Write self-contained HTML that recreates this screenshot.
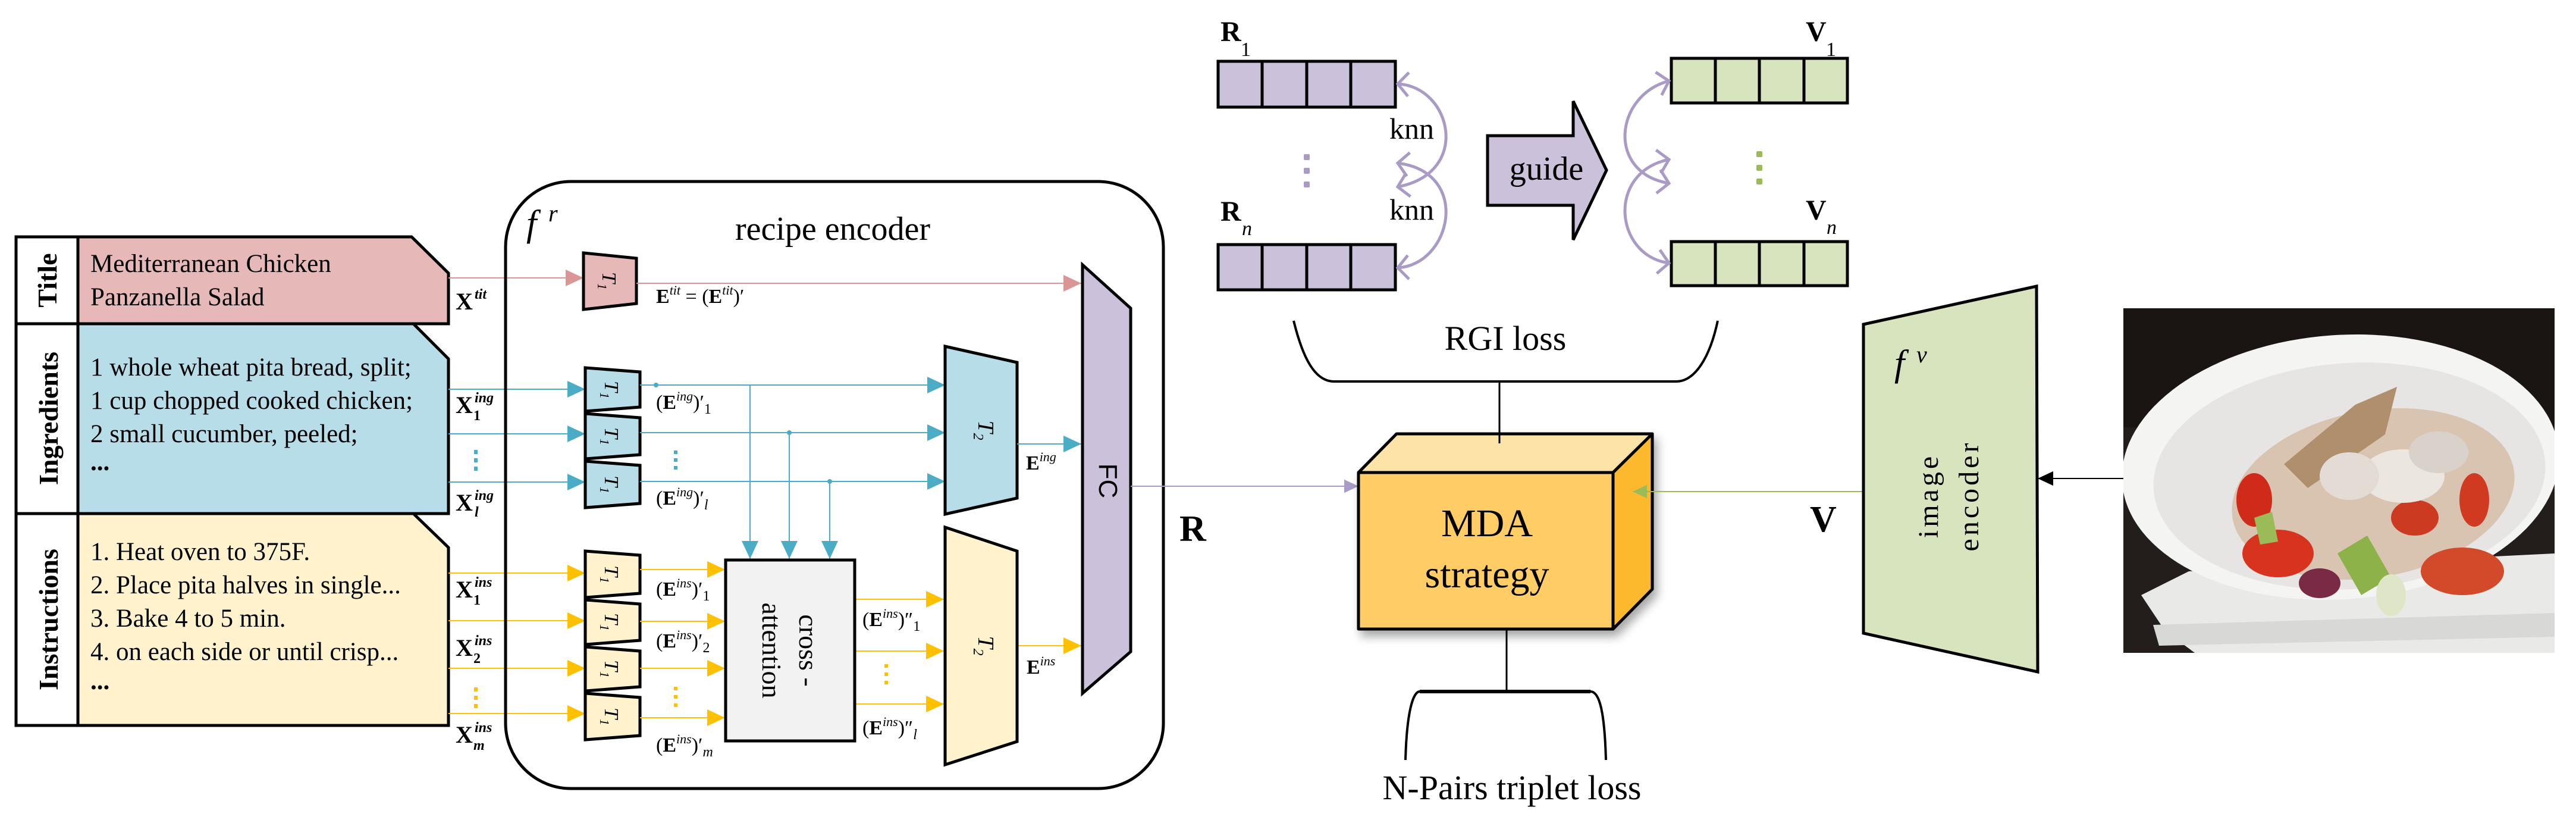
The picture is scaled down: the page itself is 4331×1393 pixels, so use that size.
<!DOCTYPE html>
<html><head><meta charset="utf-8"><style>
html,body{margin:0;padding:0;background:#fff;}
svg{display:block;font-family:"Liberation Serif",serif;}
text{font-family:"Liberation Serif",serif;}
</style></head><body>
<svg width="4331" height="1393" viewBox="0 0 4331 1393" xmlns="http://www.w3.org/2000/svg" font-family="Liberation Serif, serif">
<defs>
<marker id="mp" viewBox="0 0 30 28" refX="30" refY="14" markerWidth="30" markerHeight="28" orient="auto" markerUnits="userSpaceOnUse"><path d="M0,0 L30,14 L0,28 z" fill="#d99694"/></marker>
<marker id="mb" viewBox="0 0 30 28" refX="30" refY="14" markerWidth="30" markerHeight="28" orient="auto" markerUnits="userSpaceOnUse"><path d="M0,0 L30,14 L0,28 z" fill="#4bacc6"/></marker>
<marker id="my" viewBox="0 0 30 28" refX="30" refY="14" markerWidth="30" markerHeight="28" orient="auto" markerUnits="userSpaceOnUse"><path d="M0,0 L30,14 L0,28 z" fill="#ffc000"/></marker>
<marker id="mv" viewBox="0 0 30 28" refX="30" refY="14" markerWidth="24" markerHeight="28" orient="auto" markerUnits="userSpaceOnUse"><path d="M0,0 L30,14 L0,28 z" fill="#a99bc6"/></marker>
<marker id="mg" viewBox="0 0 30 28" refX="30" refY="14" markerWidth="24" markerHeight="28" orient="auto" markerUnits="userSpaceOnUse"><path d="M0,0 L30,14 L0,28 z" fill="#9bbb59"/></marker>
<marker id="mk" viewBox="0 0 30 28" refX="30" refY="14" markerWidth="26" markerHeight="28" orient="auto" markerUnits="userSpaceOnUse"><path d="M0,0 L30,14 L0,28 z" fill="#000"/></marker>
<marker id="mc" viewBox="-24 -24 28 48" refX="0" refY="0" markerWidth="28" markerHeight="48" orient="auto-start-reverse" markerUnits="userSpaceOnUse"><path d="M-18,-20 L0,0 L-18,20" fill="none" stroke="#a99bc6" stroke-width="5"/></marker>
<filter id="sh" x="-20%" y="-20%" width="150%" height="150%"><feDropShadow dx="6" dy="10" stdDeviation="8" flood-color="#000" flood-opacity="0.35"/></filter>
<clipPath id="pc"><rect x="3570" y="518" width="725" height="579"/></clipPath>
</defs>

<!-- LEFT PANEL -->
<polygon points="131,398 692,398 754,459 754,544 131,544" fill="#e6b9b8" stroke="#000" stroke-width="5"/>
<polygon points="131,544 695,544 754,603 754,863 131,863" fill="#b7dde8" stroke="#000" stroke-width="5"/>
<polygon points="131,863 695,863 754,920 754,1219 131,1219" fill="#fff2cc" stroke="#000" stroke-width="5"/>
<rect x="27" y="398" width="104" height="821" fill="#fff" stroke="#000" stroke-width="5"/>
<line x1="27" y1="544" x2="131" y2="544" stroke="#000" stroke-width="5"/>
<line x1="27" y1="863" x2="131" y2="863" stroke="#000" stroke-width="5"/>
<text transform="translate(95,471) rotate(-90)" text-anchor="middle" font-size="46" font-weight="bold">Title</text>
<text transform="translate(97,703) rotate(-90)" text-anchor="middle" font-size="46" font-weight="bold">Ingredients</text>
<text transform="translate(97,1041) rotate(-90)" text-anchor="middle" font-size="46" font-weight="bold">Instructions</text>
<g font-size="43">
<text x="152" y="457">Mediterranean Chicken</text>
<text x="152" y="513">Panzanella Salad</text>
<text x="152" y="631">1 whole wheat pita bread, split;</text>
<text x="152" y="687">1 cup chopped cooked chicken;</text>
<text x="152" y="743">2 small cucumber, peeled;</text>
<text x="152" y="790" font-weight="bold">...</text>
<text x="152" y="941">1. Heat oven to 375F.</text>
<text x="152" y="997">2. Place pita halves in single...</text>
<text x="152" y="1053">3. Bake 4 to 5 min.</text>
<text x="152" y="1109">4. on each side or until crisp...</text>
<text x="152" y="1158" font-weight="bold">...</text>
</g>
<g font-size="40" font-weight="bold">
<text x="766" y="520">X</text><text x="798" y="502" font-size="24" font-style="italic">tit</text>
<text x="766" y="694">X</text><text x="798" y="676" font-size="24" font-style="italic">ing</text><text x="796" y="706" font-size="24">1</text>
<text x="766" y="858">X</text><text x="798" y="840" font-size="24" font-style="italic">ing</text><text x="798" y="868" font-size="24" font-style="italic">l</text>
<text x="766" y="1004">X</text><text x="798" y="986" font-size="24" font-style="italic">ins</text><text x="796" y="1016" font-size="24">1</text>
<text x="766" y="1102">X</text><text x="798" y="1084" font-size="24" font-style="italic">ins</text><text x="796" y="1114" font-size="24">2</text>
<text x="766" y="1248">X</text><text x="798" y="1230" font-size="24" font-style="italic">ins</text><text x="796" y="1260" font-size="24" font-style="italic">m</text>
</g>
<g fill="#4bacc6"><rect x="797" y="756" width="6" height="7"/><rect x="797" y="770" width="6" height="7"/><rect x="797" y="784" width="6" height="7"/></g>
<g fill="#ffc000"><rect x="797" y="1155" width="6" height="7"/><rect x="797" y="1169" width="6" height="7"/><rect x="797" y="1183" width="6" height="7"/></g>

<line x1="754" y1="467" x2="981" y2="467" stroke="#d99694" stroke-width="2" marker-end="url(#mp)"/>
<g stroke="#4bacc6" stroke-width="2">
<line x1="754" y1="654" x2="984" y2="654" marker-end="url(#mb)"/>
<line x1="754" y1="729" x2="984" y2="729" marker-end="url(#mb)"/>
<line x1="754" y1="810" x2="984" y2="810" marker-end="url(#mb)"/>
</g>
<g stroke="#ffc000" stroke-width="2">
<line x1="754" y1="963" x2="984" y2="963" marker-end="url(#my)"/>
<line x1="754" y1="1043" x2="984" y2="1043" marker-end="url(#my)"/>
<line x1="754" y1="1123" x2="984" y2="1123" marker-end="url(#my)"/>
<line x1="754" y1="1199" x2="984" y2="1199" marker-end="url(#my)"/>
</g>

<!-- recipe encoder -->
<rect x="850" y="305" width="1106" height="1020" rx="110" ry="110" fill="none" stroke="#000" stroke-width="5"/>
<text x="885" y="396" font-size="62" font-style="italic">f</text><text x="922" y="372" font-size="40" font-style="italic">r</text>
<text x="1400" y="403" font-size="56" text-anchor="middle">recipe encoder</text>

<polygon points="981,425 1070,434 1070,510 981,520" fill="#e6b9b8" stroke="#000" stroke-width="5"/>
<text transform="translate(1013,472) rotate(90)" text-anchor="middle" font-size="34" font-style="italic">T<tspan font-size="22" dy="8">1</tspan></text>
<line x1="1070" y1="476" x2="1818" y2="476" stroke="#d99694" stroke-width="2" marker-end="url(#mp)"/>
<text x="1103" y="509" font-size="34"><tspan font-weight="bold">E</tspan><tspan font-size="22" font-style="italic" dy="-14">tit</tspan><tspan dy="14"> = (</tspan><tspan font-weight="bold">E</tspan><tspan font-size="22" font-style="italic" dy="-14">tit</tspan><tspan dy="14">)′</tspan></text>

<g fill="#b7dde8" stroke="#000" stroke-width="5">
<polygon points="984,618 1076,625 1076,684 984,691"/>
<polygon points="984,695 1076,702 1076,764 984,771"/>
<polygon points="984,775 1076,782 1076,846 984,853"/>
</g>
<g font-size="34" font-style="italic" text-anchor="middle">
<text transform="translate(1017,655) rotate(90)">T<tspan font-size="22" dy="8">1</tspan></text>
<text transform="translate(1017,733) rotate(90)">T<tspan font-size="22" dy="8">1</tspan></text>
<text transform="translate(1017,814) rotate(90)">T<tspan font-size="22" dy="8">1</tspan></text>
</g>
<g stroke="#4bacc6" stroke-width="2">
<line x1="1076" y1="647" x2="1589" y2="647" marker-end="url(#mb)"/>
<line x1="1076" y1="727" x2="1589" y2="727" marker-end="url(#mb)"/>
<line x1="1076" y1="809" x2="1589" y2="809" marker-end="url(#mb)"/>
<line x1="1261" y1="647" x2="1261" y2="939" marker-end="url(#mb)"/>
<line x1="1327" y1="727" x2="1327" y2="939" marker-end="url(#mb)"/>
<line x1="1395" y1="809" x2="1395" y2="939" marker-end="url(#mb)"/>
</g>
<g fill="#4bacc6"><circle cx="1103" cy="647" r="4"/><circle cx="1327" cy="727" r="4"/><circle cx="1395" cy="809" r="4"/>
<rect x="1133" y="757" width="6" height="6"/><rect x="1133" y="770" width="6" height="6"/><rect x="1133" y="783" width="6" height="6"/></g>
<g font-size="34">
<text x="1103" y="687">(<tspan font-weight="bold">E</tspan><tspan font-size="22" font-style="italic" dy="-14">ing</tspan><tspan dy="14">)′</tspan><tspan font-size="24" dy="8">1</tspan></text>
<text x="1103" y="848">(<tspan font-weight="bold">E</tspan><tspan font-size="22" font-style="italic" dy="-14">ing</tspan><tspan dy="14">)′</tspan><tspan font-size="24" font-style="italic" dy="8">l</tspan></text>
</g>

<polygon points="1589,582 1710,609 1710,837 1589,864" fill="#b7dde8" stroke="#000" stroke-width="5"/>
<text transform="translate(1645,723) rotate(90)" text-anchor="middle" font-size="38" font-style="italic">T<tspan font-size="24" dy="8">2</tspan></text>
<line x1="1710" y1="746" x2="1818" y2="746" stroke="#4bacc6" stroke-width="2" marker-end="url(#mb)"/>
<text x="1725" y="789" font-size="34"><tspan font-weight="bold">E</tspan><tspan font-size="22" font-style="italic" dy="-14">ing</tspan></text>

<g fill="#fff2cc" stroke="#000" stroke-width="5">
<polygon points="984,926 1076,933 1076,997 984,1004"/>
<polygon points="984,1008 1076,1015 1076,1076 984,1083"/>
<polygon points="984,1087 1076,1094 1076,1154 984,1161"/>
<polygon points="984,1165 1076,1172 1076,1236 984,1243"/>
</g>
<g font-size="34" font-style="italic" text-anchor="middle">
<text transform="translate(1017,965) rotate(90)">T<tspan font-size="22" dy="8">1</tspan></text>
<text transform="translate(1017,1045) rotate(90)">T<tspan font-size="22" dy="8">1</tspan></text>
<text transform="translate(1017,1124) rotate(90)">T<tspan font-size="22" dy="8">1</tspan></text>
<text transform="translate(1017,1204) rotate(90)">T<tspan font-size="22" dy="8">1</tspan></text>
</g>
<g stroke="#ffc000" stroke-width="2">
<line x1="1076" y1="957" x2="1219" y2="957" marker-end="url(#my)"/>
<line x1="1076" y1="1044" x2="1219" y2="1044" marker-end="url(#my)"/>
<line x1="1076" y1="1123" x2="1219" y2="1123" marker-end="url(#my)"/>
<line x1="1076" y1="1206" x2="1219" y2="1206" marker-end="url(#my)"/>
<line x1="1437" y1="1007" x2="1587" y2="1007" marker-end="url(#my)"/>
<line x1="1437" y1="1094" x2="1587" y2="1094" marker-end="url(#my)"/>
<line x1="1437" y1="1183" x2="1587" y2="1183" marker-end="url(#my)"/>
<line x1="1710" y1="1085" x2="1818" y2="1085" marker-end="url(#my)"/>
</g>
<g fill="#ffc000"><rect x="1133" y="1154" width="6" height="6"/><rect x="1133" y="1168" width="6" height="6"/><rect x="1133" y="1182" width="6" height="6"/>
<rect x="1487" y="1116" width="6" height="6"/><rect x="1487" y="1130" width="6" height="6"/><rect x="1487" y="1144" width="6" height="6"/></g>
<g font-size="34">
<text x="1103" y="1001">(<tspan font-weight="bold">E</tspan><tspan font-size="22" font-style="italic" dy="-14">ins</tspan><tspan dy="14">)′</tspan><tspan font-size="24" dy="8">1</tspan></text>
<text x="1103" y="1088">(<tspan font-weight="bold">E</tspan><tspan font-size="22" font-style="italic" dy="-14">ins</tspan><tspan dy="14">)′</tspan><tspan font-size="24" dy="8">2</tspan></text>
<text x="1103" y="1263">(<tspan font-weight="bold">E</tspan><tspan font-size="22" font-style="italic" dy="-14">ins</tspan><tspan dy="14">)′</tspan><tspan font-size="24" font-style="italic" dy="8">m</tspan></text>
<text x="1450" y="1052">(<tspan font-weight="bold">E</tspan><tspan font-size="22" font-style="italic" dy="-14">ins</tspan><tspan dy="14">)″</tspan><tspan font-size="24" dy="8">1</tspan></text>
<text x="1450" y="1234">(<tspan font-weight="bold">E</tspan><tspan font-size="22" font-style="italic" dy="-14">ins</tspan><tspan dy="14">)″</tspan><tspan font-size="24" font-style="italic" dy="8">l</tspan></text>
</g>
<rect x="1220" y="941" width="217" height="304" fill="#f2f2f2" stroke="#000" stroke-width="5"/>
<text transform="translate(1328,1093) rotate(90)" text-anchor="middle" font-size="46"><tspan x="0" dy="-16">cross -</tspan><tspan x="0" dy="62">attention</tspan></text>

<polygon points="1589,886 1710,926 1710,1246 1589,1285" fill="#fff2cc" stroke="#000" stroke-width="5"/>
<text transform="translate(1645,1085) rotate(90)" text-anchor="middle" font-size="38" font-style="italic">T<tspan font-size="24" dy="8">2</tspan></text>
<text x="1726" y="1132" font-size="34"><tspan font-weight="bold">E</tspan><tspan font-size="22" font-style="italic" dy="-14">ins</tspan></text>

<polygon points="1820,445 1901,518 1901,1095 1820,1165" fill="#ccc1da" stroke="#000" stroke-width="5"/>
<text transform="translate(1848,808) rotate(90)" text-anchor="middle" font-size="44" style="font-family:'Liberation Sans',sans-serif">FC</text>

<line x1="1901" y1="817" x2="2284" y2="817" stroke="#a99bc6" stroke-width="2" marker-end="url(#mv)"/>
<text x="1983" y="909" font-size="62" font-weight="bold">R</text>

<!-- RGI top -->
<g fill="#ccc1da" stroke="#000" stroke-width="5">
<rect x="2048" y="103" width="298" height="77"/><rect x="2048" y="411" width="298" height="76"/>
</g>
<g stroke="#000" stroke-width="5">
<line x1="2122" y1="103" x2="2122" y2="180"/><line x1="2197" y1="103" x2="2197" y2="180"/><line x1="2271" y1="103" x2="2271" y2="180"/>
<line x1="2122" y1="411" x2="2122" y2="487"/><line x1="2197" y1="411" x2="2197" y2="487"/><line x1="2271" y1="411" x2="2271" y2="487"/>
</g>
<g fill="#d7e4bd" stroke="#000" stroke-width="5">
<rect x="2810" y="98" width="296" height="75"/><rect x="2810" y="406" width="296" height="74"/>
</g>
<g stroke="#000" stroke-width="5">
<line x1="2884" y1="98" x2="2884" y2="173"/><line x1="2958" y1="98" x2="2958" y2="173"/><line x1="3033" y1="98" x2="3033" y2="173"/>
<line x1="2884" y1="406" x2="2884" y2="480"/><line x1="2958" y1="406" x2="2958" y2="480"/><line x1="3033" y1="406" x2="3033" y2="480"/>
</g>
<g font-weight="bold" font-size="48">
<text x="2052" y="69">R</text><text x="2086" y="94" font-size="34" font-weight="normal">1</text>
<text x="2052" y="371">R</text><text x="2088" y="395" font-size="34" font-weight="normal" font-style="italic">n</text>
<text x="3036" y="69">V</text><text x="3070" y="94" font-size="34" font-weight="normal">1</text>
<text x="3036" y="369">V</text><text x="3071" y="393" font-size="34" font-weight="normal" font-style="italic">n</text>
</g>
<g fill="#a99bc6"><rect x="2192" y="259" width="10" height="10" rx="2"/><rect x="2192" y="282" width="10" height="10" rx="2"/><rect x="2192" y="305" width="10" height="10" rx="2"/></g>
<g fill="#9bbb59"><rect x="2953" y="254" width="10" height="10" rx="2"/><rect x="2953" y="277" width="10" height="10" rx="2"/><rect x="2953" y="300" width="10" height="10" rx="2"/></g>
<g fill="none" stroke="#a99bc6" stroke-width="5">
<path d="M2350,141 C2440,145 2475,290 2350,314" marker-start="url(#mc)" marker-end="url(#mc)"/>
<path d="M2350,274 C2475,290 2440,445 2350,450" marker-start="url(#mc)" marker-end="url(#mc)"/>
<path d="M2806,136 C2715,160 2700,290 2806,308" marker-start="url(#mc)" marker-end="url(#mc)"/>
<path d="M2806,268 C2700,290 2715,430 2806,442" marker-start="url(#mc)" marker-end="url(#mc)"/>
</g>
<text x="2336" y="233" font-size="50">knn</text>
<text x="2336" y="369" font-size="50">knn</text>
<polygon points="2501,228 2645,228 2645,170 2701,286 2645,403 2645,345 2501,345" fill="#ccc1da" stroke="#000" stroke-width="5"/>
<text x="2600" y="302" font-size="56" text-anchor="middle">guide</text>

<path d="M2175,539 C2190,600 2210,641 2243,641 L2818,641 C2850,641 2875,600 2888,539" fill="none" stroke="#000" stroke-width="4"/>
<text x="2531" y="588" font-size="58" text-anchor="middle">RGI loss</text>
<line x1="2521" y1="641" x2="2521" y2="745" stroke="#000" stroke-width="3"/>

<g filter="url(#sh)" stroke="#000" stroke-width="5" stroke-linejoin="round">
<polygon points="2284,794 2348,729 2778,729 2712,794" fill="#fee3a8"/>
<polygon points="2712,794 2778,729 2778,990 2712,1057" fill="#fdb92f"/>
<rect x="2284" y="794" width="428" height="263" fill="#ffcc66"/>
</g>
<line x1="2521" y1="729" x2="2521" y2="745" stroke="#000" stroke-width="3"/>
<text x="2500" y="901" font-size="66" text-anchor="middle">MDA</text>
<text x="2500" y="987" font-size="66" text-anchor="middle">strategy</text>

<line x1="3133" y1="826" x2="2745" y2="826" stroke="#9bbb59" stroke-width="2" marker-end="url(#mg)"/>
<text x="3043" y="893" font-size="62" font-weight="bold">V</text>

<line x1="2533" y1="1057" x2="2533" y2="1162" stroke="#000" stroke-width="3"/>
<path d="M2363,1277 C2365,1200 2375,1162 2387,1162 L2674,1162 C2690,1162 2698,1200 2700,1277" fill="none" stroke="#000" stroke-width="4"/>
<line x1="2387" y1="1162" x2="2674" y2="1162" stroke="#000" stroke-width="6"/>
<text x="2542" y="1343" font-size="58" text-anchor="middle">N-Pairs triplet loss</text>

<polygon points="3133,545 3424,481 3426,1129 3133,1064" fill="#d7e4bd" stroke="#000" stroke-width="5"/>
<text x="3185" y="631" font-size="62" font-style="italic">f</text><text x="3222" y="609" font-size="40" font-style="italic">v</text>
<text transform="translate(3258,833) rotate(-90)" text-anchor="middle" font-size="48" letter-spacing="5">image</text>
<text transform="translate(3326,833) rotate(-90)" text-anchor="middle" font-size="48" letter-spacing="5">encoder</text>
<line x1="3570" y1="804" x2="3426" y2="804" stroke="#000" stroke-width="2" marker-end="url(#mk)"/>

<!-- photo -->
<g clip-path="url(#pc)">
<rect x="3570" y="518" width="725" height="579" fill="#231e1c"/>
<rect x="3570" y="518" width="725" height="200" fill="#1a1513"/>
<polygon points="3600,1000 3680,960 4295,930 4295,1097 3690,1097 3640,1060" fill="#e9e9e7"/>
<polygon points="3620,1050 4295,1030 4295,1070 3630,1085" fill="#d8d8d6"/>
<ellipse cx="3935" cy="785" rx="368" ry="222" transform="rotate(-4 3935 785)" fill="#f4f4f3"/>
<ellipse cx="3950" cy="800" rx="330" ry="190" transform="rotate(-4 3950 800)" fill="#e6e5e3"/>
<ellipse cx="3990" cy="830" rx="240" ry="140" transform="rotate(-10 3990 830)" fill="#d8c4b0"/>
<polygon points="3840,780 3960,680 4030,650 4010,730 3880,820" fill="#b08f6c"/>
<ellipse cx="3830" cy="930" rx="60" ry="40" fill="#d8331f"/>
<ellipse cx="3790" cy="840" rx="30" ry="45" fill="#cf2a1a"/>
<ellipse cx="4140" cy="960" rx="70" ry="40" fill="#d24a2a"/>
<ellipse cx="4060" cy="870" rx="40" ry="30" fill="#cc3a22"/>
<ellipse cx="4160" cy="840" rx="25" ry="45" fill="#d03a20"/>
<polygon points="3930,930 3980,900 4020,970 3970,1000" fill="#8db24a"/>
<polygon points="3790,870 3820,860 3830,910 3800,915" fill="#9bbb59"/>
<ellipse cx="4040" cy="800" rx="70" ry="45" fill="#ece6e0"/>
<ellipse cx="3950" cy="800" rx="50" ry="40" fill="#e2dcd5"/>
<ellipse cx="4100" cy="760" rx="50" ry="35" fill="#d9d2ca"/>
<ellipse cx="3900" cy="980" rx="35" ry="25" fill="#7a2a45"/>
<ellipse cx="4020" cy="1000" rx="25" ry="35" fill="#dfe6c8"/>
</g>
</svg>
</body></html>
